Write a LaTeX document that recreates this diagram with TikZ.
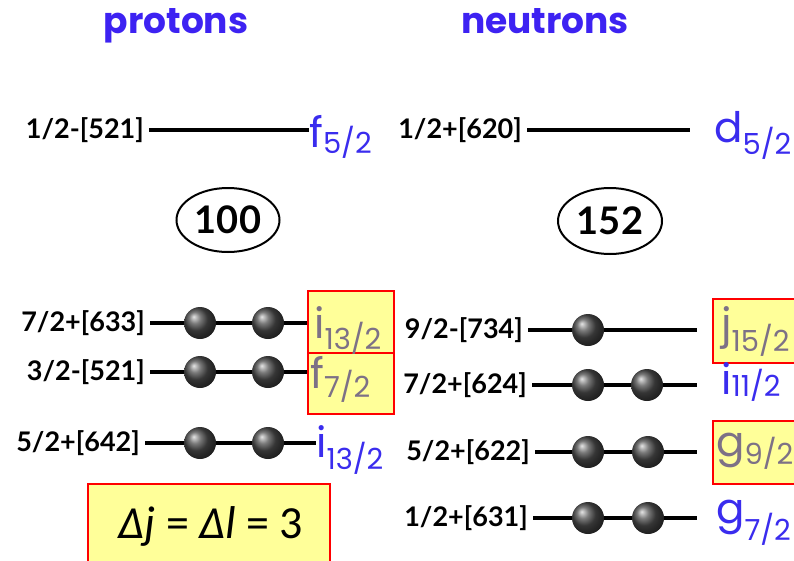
\documentclass[tikz,border=0pt]{standalone}
\usepackage{fontspec}
\setmainfont{Lato}
\newfontfamily\headfont{Poppins}
\newfontfamily\orbfont{Poppins}
\newfontfamily\deltafont{Carlito}
\usetikzlibrary{shapes.geometric}
\definecolor{headblue}{HTML}{3D22F2}
\definecolor{orbblue}{HTML}{3A2CEE}
\definecolor{orbgray}{HTML}{7D7186}
\definecolor{boxyellow}{HTML}{FFFF99}
\definecolor{boxred}{HTML}{FF0000}
% orbital name: letter, subscript, drop of the subscript
\newcommand{\orb}[3]{{\orbfont\fontsize{42}{42}\selectfont #1}\raisebox{-#3pt}{\orbfont\fontsize{29}{29}\selectfont #2}}
\tikzset{
    head_text/.style = {
        font=\headfont\bfseries\fontsize{36}{36}\selectfont,
        text=headblue,
        anchor=base
    },
    level_label/.style = {
        font=\bfseries\fontsize{27}{27}\selectfont,
        anchor=east,
        inner xsep=5pt
    },
    level_line/.style = {
        draw=black,
        line width=3.4pt
    },
    ball/.style = {
        circle,
        inner sep=0pt,
        minimum size=32pt,
        shading=ball,
        ball color=black!70
    },
    orb_label/.style = {
        anchor=base west,
        inner sep=0pt,
        text=orbblue
    },
    orb_box/.style = {
        draw=boxred,
        fill=boxyellow,
        line width=1.8pt,
        anchor=north west,
        inner sep=0pt
    },
    magic/.style = {
        ellipse,
        draw=black,
        line width=2pt,
        inner sep=0pt,
        font=\bfseries\fontsize{38}{38}\selectfont
    },
}

\begin{document}
\begin{tikzpicture}[x=1pt, y=-1pt]
    \useasboundingbox (0, 0) rectangle (794, 560);
    \clip (0, 0) rectangle (794, 560);

    \node[head_text] (protons) at (176, 33) {protons};
    \node[head_text] (neutrons) at (545, 33) {neutrons};

    \node[magic, minimum width=103pt, minimum height=64pt] (magic_p) at (228, 220) {100};
    \node[magic, minimum width=104pt, minimum height=66pt] (magic_n) at (610, 221) {152};

    % proton levels
    \begin{scope}
        \node[level_label] (p_lab1) at (149, 130) {1/2-[521]};
        \node[orb_label] (p_orb1) at (309, 147) {\orb{f}{5/2}{6}};
        \draw[level_line] (p_lab1.east) -- (p_lab1.east -| p_orb1.west);

        \node[orb_box, minimum width=86pt, minimum height=62pt] (p_box2) at (307, 290) {};
        \node[orb_box, minimum width=86pt, minimum height=61pt] (p_box3) at (307, 352) {};

        \node[level_label] (p_lab2) at (150, 323) {7/2+[633]};
        \node[orb_label, text=orbgray] (p_orb2) at (314, 338) {\orb{i}{13/2}{11}};
        \draw[level_line] (p_lab2.east) -- (p_lab2.east -| p_box2.west);
        \node[ball] (p_b21) at (200, 323) {};
        \node[ball] (p_b22) at (268, 323) {};

        \node[level_label] (p_lab3) at (150, 372) {3/2-[521]};
        \node[orb_label, text=orbgray] (p_orb3) at (310, 388) {\orb{f}{7/2}{9}};
        \draw[level_line] (p_lab3.east) -- (p_lab3.east -| p_box3.west);
        \node[ball] (p_b31) at (200, 372) {};
        \node[ball] (p_b32) at (268, 372) {};

        \node[level_label] (p_lab4) at (145, 443) {5/2+[642]};
        \node[orb_label] (p_orb4) at (316, 457) {\orb{i}{13/2}{12}};
        \draw[level_line] (p_lab4.east) -- (p_lab4.east -| p_orb4.west);
        \node[ball] (p_b41) at (200, 443) {};
        \node[ball] (p_b42) at (268, 443) {};
    \end{scope}

    % neutron levels
    \begin{scope}
        \node[level_label] (n_lab1) at (527, 130) {1/2+[620]};
        \coordinate (n_end1) at (690, 130);
        \node[orb_label] (n_orb1) at (714, 142) {\orb{d}{5/2}{12}};
        \draw[level_line] (n_lab1.east) -- (n_end1);

        \node[orb_box, minimum width=90pt, minimum height=64pt] (n_box2) at (712, 298) {};
        \node[orb_box, minimum width=90pt, minimum height=63pt] (n_box4) at (712, 420) {};

        \node[level_label] (n_lab2) at (528, 330) {9/2-[734]};
        \coordinate (n_end2) at (697, 330);
        \node[orb_label, text=orbgray] (n_orb2) at (721, 338) {\orb{j}{15/2}{13}};
        \draw[level_line] (n_lab2.east) -- (n_end2);
        \node[ball] (n_b21) at (588, 330) {};

        \node[level_label] (n_lab3) at (532, 385) {7/2+[624]};
        \coordinate (n_end3) at (697, 385);
        \node[orb_label] (n_orb3) at (721, 394) {\orb{i}{11/2}{2}};
        \draw[level_line] (n_lab3.east) -- (n_end3);
        \node[ball] (n_b31) at (588, 385) {};
        \node[ball] (n_b32) at (647, 385) {};

        \node[level_label] (n_lab4) at (535, 452) {5/2+[622]};
        \coordinate (n_end4) at (697, 452);
        \node[orb_label, text=orbgray] (n_orb4) at (716, 456) {\orb{g}{9/2}{8}};
        \draw[level_line] (n_lab4.east) -- (n_end4);
        \node[ball] (n_b41) at (588, 452) {};
        \node[ball] (n_b42) at (648, 452) {};

        \node[level_label] (n_lab5) at (533, 518) {1/2+[631]};
        \coordinate (n_end5) at (697, 518);
        \node[orb_label] (n_orb5) at (716, 523) {\orb{g}{7/2}{17}};
        \draw[level_line] (n_lab5.east) -- (n_end5);
        \node[ball] (n_b51) at (588, 518) {};
        \node[ball] (n_b52) at (648, 518) {};
    \end{scope}

    % selection rule
    \node[orb_box, minimum width=242pt, minimum height=85pt] (rule_box) at (87, 483) {};
    \node[anchor=base, inner sep=0pt, font=\deltafont\fontsize{46}{46}\selectfont] (rule) at (211, 538) {\itshape Δj\/ \upshape= \itshape Δl\/ \upshape= 3};
\end{tikzpicture}
\end{document}
